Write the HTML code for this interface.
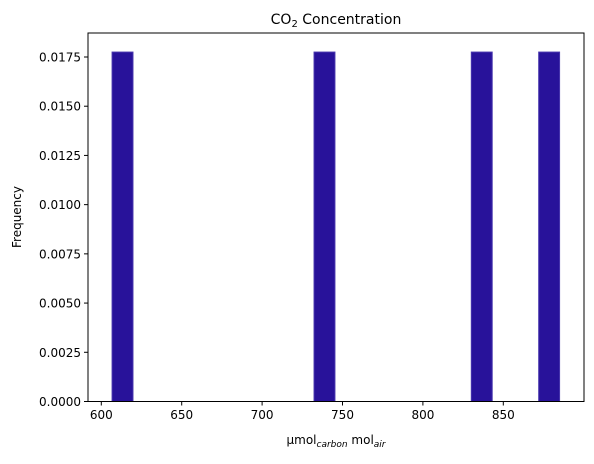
<!DOCTYPE html>
<html><head><meta charset="utf-8"><style>
body{margin:0;background:#fff;}
svg text{font-family:"DejaVu Sans","Liberation Sans",sans-serif;fill:#000;}
</style></head><body>
<svg id="chart" width="594" height="459">
<text x="336" y="24" font-size="14" text-anchor="middle">CO<tspan font-size="10" dy="3">2</tspan><tspan dy="-3"> Concentration</tspan></text>
<g id="bars"></g><g id="xt"></g><g id="yt"></g>
<rect x="88" y="33" width="496" height="368.5" fill="none" stroke="#000" stroke-width="1"/>
<text x="336" y="444" font-size="12" text-anchor="middle">µmol<tspan font-size="9" font-style="italic" dy="3">carbon</tspan><tspan dy="-3"> mol</tspan><tspan font-size="9" font-style="italic" dy="3">air</tspan></text>
<text x="21" y="217" font-size="12" text-anchor="middle" transform="rotate(-90 21 217)">Frequency</text>
</svg>
<script>
const binStarts=[606.7,732.3,830.1,872.0];
const binWidth=13.0;
const freqs=[0.01775,0.01775,0.01775,0.01775];
const xTicks=[600,650,700,750,800,850];
const yTicks=[0,0.0025,0.005,0.0075,0.01,0.0125,0.015,0.0175];
const yLabels=["0.0000","0.0025","0.0050","0.0075","0.0100","0.0125","0.0150","0.0175"];
const NS="http://www.w3.org/2000/svg";
const X=v=>101.3+(v-600)*1.608;
const Y=v=>401.5-v*19686;
function mk(t,a,p){const e=document.createElementNS(NS,t);for(const k in a)e.setAttribute(k,a[k]);p.appendChild(e);return e;}
const bars=document.getElementById('bars');
binStarts.forEach((s,i)=>{
 const r=mk('rect',{x:X(s),y:Y(freqs[i]),width:X(s+binWidth)-X(s),height:Y(0)-Y(freqs[i]),fill:'#28129a',stroke:'#4836ae','stroke-width':1},bars);
 
 
});
const xt=document.getElementById('xt');
xTicks.forEach(v=>{
 mk('line',{x1:X(v),x2:X(v),y1:401.5,y2:405.5,stroke:'#000'},xt);
 const t=mk('text',{x:X(v),y:419,'font-size':12,'text-anchor':'middle'},xt);t.textContent=v;
 
 
});
const yt=document.getElementById('yt');
yTicks.forEach((v,i)=>{
 mk('line',{x1:84,x2:88,y1:Y(v),y2:Y(v),stroke:'#000'},yt);
 const t=mk('text',{x:81,y:Y(v)+4.5,'font-size':12,'text-anchor':'end'},yt);t.textContent=yLabels[i];
 
 
});
</script>
</body></html>
